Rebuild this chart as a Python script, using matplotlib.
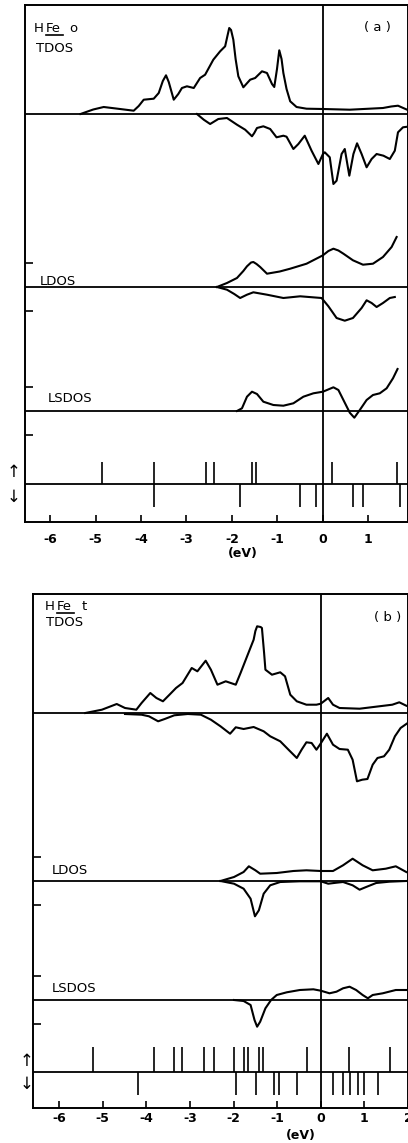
import matplotlib.pyplot as plt
from matplotlib.lines import Line2D

W, H = 408, 1143

# ---------------- panel (a): HFe o ----------------
a_tdos_up_e = [-5.33, -5.05, -4.82, -4.55, -4.16, -4.05, -3.94, -3.72, -3.61, -3.52, -3.45, -3.39,
               -3.28, -3.18, -3.10, -2.99, -2.84, -2.70, -2.59, -2.41, -2.26, -2.15, -2.10, -2.06,
               -2.02, -1.97, -1.92, -1.86, -1.75, -1.60, -1.49, -1.34, -1.23, -1.12, -1.07, -1.01,
               -0.96, -0.91, -0.87, -0.80, -0.72, -0.58, -0.36, 0.0, 0.59, 1.32, 1.50, 1.65, 1.85]
a_tdos_up = [0, 4.5, 7, 5.5, 3.3, 8, 14.3, 15.3, 21, 33, 38.7, 32,
             14.3, 20, 26, 27.7, 26, 36, 39.3, 54.3, 62.7, 67.7, 78, 86,
             84, 74.3, 55, 37.7, 26.7, 34.3, 36, 42.7, 41, 30, 27, 45,
             63.7, 55, 41, 25, 12.7, 7, 5.3, 5, 4.3, 6, 7.5, 8.3, 4.3]

a_tdos_dn_e = [-2.77, -2.62, -2.48, -2.30, -2.11, -1.89, -1.71, -1.60, -1.56, -1.51, -1.45, -1.31,
               -1.16, -1.02, -0.87, -0.80, -0.65, -0.54, -0.40, -0.25, -0.10, 0.0, 0.04, 0.15,
               0.23, 0.30, 0.41, 0.48, 0.58, 0.67, 0.75, 0.85, 0.96, 1.07, 1.18, 1.33, 1.47,
               1.58, 1.65, 1.76, 1.86]
a_tdos_dn = [0, 5.7, 10, 5, 4, 10.7, 15.7, 20.5, 22.3, 19, 14, 12.3,
             15, 23.3, 21.7, 22.7, 35, 30, 21.7, 36.7, 50, 40, 38.3, 43.3,
             70, 66.7, 40, 35, 61.7, 40, 29.3, 40, 53.3, 45, 40, 41.7, 45,
             36.7, 18.3, 13.3, 12.7]

a_ldos_up_e = [-2.33, -2.11, -1.89, -1.75, -1.67, -1.58, -1.53, -1.46, -1.38, -1.23, -0.95, -0.72,
               -0.36, 0.0, 0.12, 0.23, 0.34, 0.45, 0.66, 0.88, 1.10, 1.32, 1.51, 1.62]
a_ldos_up = [0, 4, 9, 16, 20.7, 24.5, 25, 23, 20, 13.3, 15.5, 18.3,
             23.3, 31.7, 36, 38.3, 36.5, 33.3, 26.7, 22.3, 23.3, 30, 40, 50]

a_ldos_dn_e = [-2.33, -2.11, -1.95, -1.82, -1.67, -1.53, -1.23, -0.87, -0.50, -0.03, 0.12, 0.30,
               0.48, 0.66, 0.85, 0.96, 1.07, 1.18, 1.32, 1.47, 1.58]
a_ldos_dn = [0, 2.7, 7, 11, 7.7, 5.3, 7.7, 11, 9.3, 11, 19.3, 31,
             33.7, 31, 21, 13.3, 16, 20, 16, 11, 10]

a_lsdos_e = [-1.89, -1.78, -1.67, -1.56, -1.45, -1.31, -1.09, -0.87, -0.65, -0.43, -0.21, 0.0,
             0.23, 0.34, 0.45, 0.59, 0.69, 0.81, 0.96, 1.10, 1.25, 1.40, 1.54, 1.64]
a_lsdos = [0, 2.7, 14.3, 19.3, 17, 9.3, 6, 5.3, 7.7, 14.3, 17.7, 19.3,
           23.7, 21, 11, -1.7, -6.7, 1, 11, 16, 17.7, 22.7, 32.7, 42]

a_levels_up = [-4.85, -3.71, -2.57, -2.39, -1.56, -1.47, 0.20, 1.62]
a_levels_dn = [-3.71, -1.82, -0.50, -0.15, 0.66, 0.88, 1.69]
a_ticks = [-6, -5, -4, -3, -2, -1, 0, 1]

# ---------------- panel (b): HFe t ----------------
b_tdos_up_e = [-5.40, -5.02, -4.68, -4.49, -4.23, -4.11, -3.91, -3.77, -3.62, -3.47, -3.32, -3.17,
               -2.96, -2.83, -2.64, -2.52, -2.37, -2.18, -1.95, -1.84, -1.69, -1.54, -1.50, -1.46,
               -1.38, -1.35, -1.30, -1.27, -1.12, -0.93, -0.82, -0.70, -0.55, -0.33, -0.10, 0.0,
               0.17, 0.28, 0.43, 0.89, 1.34, 1.64, 1.80, 1.96]
b_tdos_up = [0, 3.3, 9, 5, 3.3, 10, 20, 15, 11.7, 18.3, 25, 30,
             45, 41.7, 52.3, 43.3, 28.3, 31.7, 28.3, 40, 56.7, 73.3, 82, 86.7,
             86, 85, 60, 43.3, 38.3, 40.7, 36.7, 18.3, 11.7, 8.3, 8.3, 9.3,
             15, 8.3, 5, 4.3, 6.7, 8.3, 10.7, 7.3]

b_tdos_dn_e = [-4.49, -4.11, -3.94, -3.73, -3.58, -3.36, -3.05, -2.75, -2.52, -2.30, -2.08, -1.95,
               -1.77, -1.54, -1.31, -1.16, -0.93, -0.74, -0.55, -0.44, -0.33, -0.21, -0.10, -0.02,
               0.14, 0.28, 0.43, 0.62, 0.73, 0.83, 0.95, 1.07, 1.19, 1.30, 1.45, 1.57, 1.70,
               1.83, 1.97]
b_tdos_dn = [1, 1.7, 3.3, 8.3, 6, 2.3, 1, 1.7, 6.7, 13.3, 20.7, 14.3,
             16, 14, 18.3, 23.3, 28.3, 36.7, 45, 36.7, 29.3, 30, 36.7, 31.7,
             20.7, 31.7, 36, 36.7, 46.7, 68.3, 66.7, 66, 51.7, 45, 43.3, 36.7, 23.3,
             15, 10.7]

b_ldos_up_e = [-2.30, -1.99, -1.77, -1.65, -1.50, -1.39, -1.01, -0.63, -0.33, 0.0, 0.28, 0.51,
               0.73, 0.96, 1.19, 1.49, 1.72, 1.96]
b_ldos_up = [0, 4, 9, 14.7, 10.7, 7.3, 8, 10, 10.7, 10, 10, 15.7,
             22.3, 15.7, 10.7, 12.3, 14.7, 9]

b_ldos_dn_e = [-2.30, -1.99, -1.77, -1.61, -1.51, -1.42, -1.31, -1.16, -0.93, -0.48, 0.0, 0.17,
               0.36, 0.51, 0.73, 0.89, 1.04, 1.27, 1.57, 1.96]
b_ldos_dn = [0, 2.7, 7.7, 17.7, 35.3, 29.3, 12.7, 4.3, 1, 0.3, 0.3, 2.7,
             1.7, 1, 4.3, 8.7, 6, 2, 0.7, 0]

b_lsdos_e = [-1.99, -1.77, -1.61, -1.52, -1.46, -1.39, -1.27, -1.14, -1.01, -0.78, -0.48, -0.17,
             0.0, 0.20, 0.36, 0.51, 0.66, 0.81, 0.96, 1.08, 1.19, 1.42, 1.72, 1.96]
b_lsdos = [0, -1, -5, -20, -26.7, -21.7, -8.3, 0, 5, 7.7, 10, 10.7,
           9.3, 6.7, 8.3, 11.7, 13.3, 10, 5, 1.7, 5, 6.7, 10, 10]

b_levels_up = [-5.23, -3.82, -3.36, -3.18, -2.68, -2.45, -2.0, -1.77, -1.66, -1.41, -1.32,
               -0.32, 0.64, 1.59]
b_levels_dn = [-4.2, -1.95, -1.48, -1.07, -0.95, -0.55, 0.27, 0.52, 0.66, 0.86, 0.98, 1.32]
b_ticks = [-6, -5, -4, -3, -2, -1, 0, 1, 2]

fig = plt.figure(figsize=(W / 100, H / 100), dpi=100)


def px_axes(left, top, right, bottom):
    return fig.add_axes([left / W, 1 - bottom / H, (right - left) / W, (bottom - top) / H])


def ftext(x, y, s, **kw):
    kw.setdefault("fontsize", 9.5)
    kw.setdefault("va", "center")
    return fig.text(x / W, 1 - y / H, s, family="DejaVu Sans", **kw)


def draw_panel(ax, xlim, height, bases, curves, levels, lev_h, ticks, pad):
    t_base, l_base, s_base, v_base = bases
    ax.set_xlim(*xlim)
    ax.set_ylim(0, height)
    for b in bases:
        ax.axhline(b, color="black", lw=1.3)
    ax.axvline(0, color="black", lw=1.3)
    (tue, tu), (tde, td), (lue, lu), (lde, ld), (se, s) = curves
    kw = dict(color="black", lw=1.5, solid_joinstyle="round")
    ax.plot(tue, [t_base + v for v in tu], **kw)
    ax.plot(tde, [t_base - v for v in td], **kw)
    ax.plot(lue, [l_base + v for v in lu], **kw)
    ax.plot(lde, [l_base - v for v in ld], **kw)
    ax.plot(se, [s_base + v for v in s], **kw)
    up, dn = levels
    ax.vlines(up, v_base, v_base + lev_h[0], color="black", lw=1.2)
    ax.vlines(dn, v_base - lev_h[1], v_base, color="black", lw=1.2)
    ax.set_yticks([l_base + 24, l_base - 24, s_base + 24, s_base - 24])
    ax.set_yticklabels([])
    ax.set_xticks(ticks)
    ax.set_xticklabels([str(t) for t in ticks], fontsize=9, fontweight="bold",
                       family="DejaVu Sans")
    ax.tick_params(axis="y", direction="in", length=6, width=1.2)
    ax.tick_params(axis="x", direction="in", length=5, width=1.2, pad=pad)
    for sp in ax.spines.values():
        sp.set_linewidth(1.4)


ax_a = px_axes(25, 5, 408, 522)
draw_panel(ax_a, (-6.55, 1.87), 517, (408, 235, 111, 38),
           [(a_tdos_up_e, a_tdos_up), (a_tdos_dn_e, a_tdos_dn),
            (a_ldos_up_e, a_ldos_up), (a_ldos_dn_e, a_ldos_dn), (a_lsdos_e, a_lsdos)],
           (a_levels_up, a_levels_dn), (22, 23), a_ticks, 8)

ax_b = px_axes(33, 594, 408, 1108)
draw_panel(ax_b, (-6.6, 2.0), 514, (395, 227, 108, 36),
           [(b_tdos_up_e, b_tdos_up), (b_tdos_dn_e, b_tdos_dn),
            (b_ldos_up_e, b_ldos_up), (b_ldos_dn_e, b_ldos_dn), (b_lsdos_e, b_lsdos)],
           (b_levels_up, b_levels_dn), (25, 23), b_ticks, 3)

# labels panel (a)
ftext(34, 28, "H")
ftext(46, 28, "Fe")
ftext(69, 28, "o")
fig.add_artist(Line2D([46 / W, 63 / W], [1 - 35 / H] * 2, transform=fig.transFigure,
                      color="black", lw=1.2))
ftext(36, 48, "TDOS")
ftext(377, 27, "( a )", ha="center")
ftext(40, 281, "LDOS")
ftext(48, 399, "LSDOS")
ftext(243, 553, "(eV)", ha="center", fontsize=9, fontweight="bold")
ftext(14, 472, "\u2191", ha="center", fontsize=12)
ftext(14, 497, "\u2193", ha="center", fontsize=12)

# labels panel (b)
ftext(45, 606, "H")
ftext(57, 606, "Fe")
ftext(82, 606, "t")
fig.add_artist(Line2D([57 / W, 74 / W], [1 - 613 / H] * 2, transform=fig.transFigure,
                      color="black", lw=1.2))
ftext(46, 623, "TDOS")
ftext(388, 617, "( b )", ha="center")
ftext(52, 870, "LDOS")
ftext(52, 988, "LSDOS")
ftext(301, 1135, "(eV)", ha="center", fontsize=9, fontweight="bold")
ftext(27, 1061, "\u2191", ha="center", fontsize=12)
ftext(27, 1084, "\u2193", ha="center", fontsize=12)

fig.savefig("out.png", dpi=100)
